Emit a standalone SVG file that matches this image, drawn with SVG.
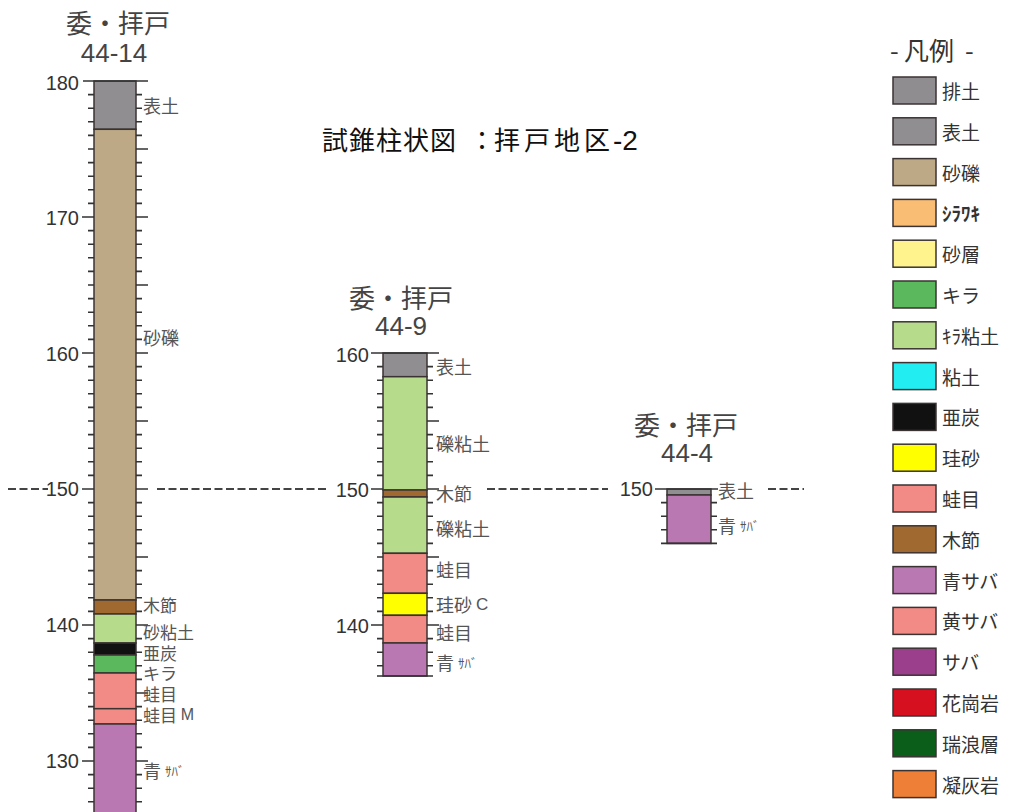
<svg xmlns="http://www.w3.org/2000/svg" width="1013" height="812" viewBox="0 0 1013 812">
<style>
.bg{fill:#fff}
.ly{stroke:#3b3333;stroke-width:1.5}
.tk{stroke:#333;stroke-width:1.6;fill:none}
.dash{stroke:#444;stroke-width:2;stroke-dasharray:8 3.5;fill:none}
.num{font-family:"Liberation Sans",Arial,sans-serif;font-size:20px;fill:#333;text-anchor:end}
.hd{font-family:"Noto Sans CJK JP","Noto Sans",sans-serif;font-size:26px;fill:#444;text-anchor:middle}
.hn{font-family:"Liberation Sans",Arial,sans-serif;font-size:26px;fill:#444;text-anchor:middle}
.lb{font-family:"Noto Sans CJK JP","Noto Sans",sans-serif;font-size:18px;fill:#555;dominant-baseline:central}
.lbd{font-size:17px}
.sm{font-size:13px}
.lg{font-family:"Noto Sans CJK JP","Noto Sans",sans-serif;font-size:19px;fill:#333;dominant-baseline:central}
.lgb{stroke:#3b3333;stroke-width:1.5}
.title{font-family:"Noto Sans CJK JP","Noto Sans",sans-serif;font-size:26px;fill:#111}
.c-haido{fill:#8f8d8f}
.c-hyodo{fill:#908e90}
.c-sareki{fill:#bea987}
.c-shirawaki{fill:#f9bd74}
.c-saso{fill:#fff38e}
.c-kira{fill:#5cb85c}
.c-kiranendo{fill:#b6dc8b}
.c-nendo{fill:#22eef2}
.c-atan{fill:#111}
.c-keisha{fill:#ffff00}
.c-gaerome{fill:#f28b85}
.c-kibushi{fill:#a0692f}
.c-aosaba{fill:#b978b1}
.c-kisaba{fill:#f28b85}
.c-saba{fill:#9b3f8c}
.c-kakougan{fill:#d7101f}
.c-mizunami{fill:#0b5e1a}
.c-gyoukai{fill:#ee7f36}
</style>
<rect class="bg" x="0" y="0" width="1013" height="812"/>

<text class="title" x="322" y="150"><tspan letter-spacing="1">試錐柱状図</tspan><tspan x="469">：</tspan><tspan x="494" letter-spacing="4">拝戸地区</tspan><tspan x="613" font-family="Liberation Sans, Arial, sans-serif" font-size="28">-2</tspan></text>

<g id="connectors">
<path class="dash" d="M8 489H48"/>
<path class="dash" d="M157 489H326"/>
<path class="dash" d="M487 489H608"/>
<path class="dash" d="M768 489H804"/>
</g>

<g id="boring-44-14">
<text class="hd" x="118" y="33">委・拝戸</text>
<text class="hn" x="114" y="62">44-14</text>
<rect class="ly c-hyodo" x="94" y="81" width="42" height="48.3"/>
<rect class="ly c-sareki" x="94" y="129.3" width="42" height="470.7"/>
<rect class="ly c-kibushi" x="94" y="600" width="42" height="14"/>
<rect class="ly c-kiranendo" x="94" y="614" width="42" height="29"/>
<rect class="ly c-atan" x="94" y="643" width="42" height="12"/>
<rect class="ly c-kira" x="94" y="655" width="42" height="18"/>
<rect class="ly c-gaerome" x="94" y="673" width="42" height="35.7"/>
<rect class="ly c-gaerome" x="94" y="708.7" width="42" height="15.3"/>
<rect class="ly c-aosaba" x="94" y="724" width="42" height="100"/>
<path class="tk" d="M83 81H148M82 217h12M82 353h12M82 489h12M82 625h12M82 761h12
M136 149h12M136 217h12M136 285h12M136 353h12M136 421h12M136 489h12M136 557h12M136 625h12M136 693h12M136 761h12
M88 94.6h6M88 108.2h6M88 121.8h6M88 135.4h6M88 149h6M88 162.6h6M88 176.2h6M88 189.8h6M88 203.4h6
M88 230.6h6M88 244.2h6M88 257.8h6M88 271.4h6M88 285h6M88 298.6h6M88 312.2h6M88 325.8h6M88 339.4h6
M88 366.6h6M88 380.2h6M88 393.8h6M88 407.4h6M88 421h6M88 434.6h6M88 448.2h6M88 461.8h6M88 475.4h6
M88 502.6h6M88 516.2h6M88 529.8h6M88 543.4h6M88 557h6M88 570.6h6M88 584.2h6M88 597.8h6M88 611.4h6
M88 638.6h6M88 652.2h6M88 665.8h6M88 679.4h6M88 693h6M88 706.6h6M88 720.2h6M88 733.8h6M88 747.4h6
M88 774.6h6M88 788.2h6M88 801.8h6
M136 94.6h6M136 108.2h6M136 121.8h6M136 135.4h6M136 162.6h6M136 176.2h6M136 189.8h6M136 203.4h6
M136 230.6h6M136 244.2h6M136 257.8h6M136 271.4h6M136 298.6h6M136 312.2h6M136 325.8h6M136 339.4h6
M136 366.6h6M136 380.2h6M136 393.8h6M136 407.4h6M136 434.6h6M136 448.2h6M136 461.8h6M136 475.4h6
M136 502.6h6M136 516.2h6M136 529.8h6M136 543.4h6M136 570.6h6M136 584.2h6M136 597.8h6M136 611.4h6
M136 638.6h6M136 652.2h6M136 665.8h6M136 679.4h6M136 706.6h6M136 720.2h6M136 733.8h6M136 747.4h6
M136 774.6h6M136 788.2h6M136 801.8h6"/>
<text class="num" x="79" y="90">180</text>
<text class="num" x="79" y="225">170</text>
<text class="num" x="79" y="361">160</text>
<text class="num" x="79" y="496">150</text>
<text class="num" x="79" y="632">140</text>
<text class="num" x="79" y="768">130</text>
<text class="lb" x="143" y="105">表土</text>
<text class="lb" x="143" y="337">砂礫</text>
<text class="lb lbd" x="143" y="604">木節</text>
<text class="lb lbd" x="143" y="631">砂粘土</text>
<text class="lb lbd" x="143" y="652">亜炭</text>
<text class="lb lbd" x="143" y="672">キラ</text>
<text class="lb lbd" x="143" y="693">蛙目</text>
<text class="lb lbd" x="143" y="714">蛙目 <tspan font-family="Liberation Sans, Arial, sans-serif" font-size="16">M</tspan></text>
<text class="lb" x="143" y="770">青 <tspan class="sm">ｻﾊﾞ</tspan></text>
</g>

<g id="boring-44-9">
<text class="hd" x="401" y="308">委・拝戸</text>
<text class="hn" x="401" y="335">44-9</text>
<rect class="ly c-hyodo" x="383" y="353" width="44" height="23.7"/>
<rect class="ly c-kiranendo" x="383" y="376.7" width="44" height="113.3"/>
<rect class="ly c-kibushi" x="383" y="490" width="44" height="7"/>
<rect class="ly c-kiranendo" x="383" y="497" width="44" height="56.3"/>
<rect class="ly c-gaerome" x="383" y="553.3" width="44" height="40"/>
<rect class="ly c-keisha" x="383" y="593.3" width="44" height="22"/>
<rect class="ly c-gaerome" x="383" y="615.3" width="44" height="27.7"/>
<rect class="ly c-aosaba" x="383" y="643" width="44" height="33"/>
<path class="tk" d="M371 353H439M371 489h12M371 625h12M377 676H433
M427 421h12M427 489h12M427 557h12M427 625h12
M377 366.6h6M377 380.2h6M377 393.8h6M377 407.4h6M377 421h6M377 434.6h6M377 448.2h6M377 461.8h6M377 475.4h6
M377 502.6h6M377 516.2h6M377 529.8h6M377 543.4h6M377 557h6M377 570.6h6M377 584.2h6M377 597.8h6M377 611.4h6
M377 638.6h6M377 652.2h6M377 665.8h6
M427 366.6h6M427 380.2h6M427 393.8h6M427 407.4h6M427 434.6h6M427 448.2h6M427 461.8h6M427 475.4h6
M427 502.6h6M427 516.2h6M427 529.8h6M427 543.4h6M427 570.6h6M427 584.2h6M427 597.8h6M427 611.4h6
M427 638.6h6M427 652.2h6M427 665.8h6"/>
<text class="num" x="369" y="362">160</text>
<text class="num" x="369" y="497">150</text>
<text class="num" x="369" y="633">140</text>
<text class="lb" x="436" y="366">表土</text>
<text class="lb" x="436" y="443">礫粘土</text>
<text class="lb" x="436" y="493">木節</text>
<text class="lb" x="436" y="528">礫粘土</text>
<text class="lb" x="436" y="569">蛙目</text>
<text class="lb" x="436" y="604">珪砂 <tspan font-family="Liberation Sans, Arial, sans-serif" font-size="17">C</tspan></text>
<text class="lb" x="436" y="632">蛙目</text>
<text class="lb" x="436" y="662">青 <tspan class="sm">ｻﾊﾞ</tspan></text>
</g>

<g id="boring-44-4">
<text class="hd" x="686" y="435">委・拝戸</text>
<text class="hn" x="687" y="462">44-4</text>
<rect class="ly c-hyodo" x="667" y="489" width="44" height="6"/>
<rect class="ly c-aosaba" x="667" y="495" width="44" height="48.4"/>
<path class="tk" d="M655 489H718M661 543.4H717
M661 502.6h6M661 516.2h6M661 529.8h6
M711 502.6h6M711 516.2h6M711 529.8h6"/>
<text class="num" x="653" y="496">150</text>
<text class="lb" x="718" y="490">表土</text>
<text class="lb" x="718" y="525">青 <tspan class="sm">ｻﾊﾞ</tspan></text>
</g>

<g id="legend">
<text x="890" y="60" style="font-family:'Noto Sans CJK JP','Noto Sans',sans-serif;font-size:25px;fill:#333">-<tspan x="904">凡例</tspan><tspan x="965">-</tspan></text>
<g id="lg-haido"><rect class="lgb c-haido" x="893" y="77" width="43" height="27"/><text class="lg" x="942" y="90.5">排土</text></g>
<g id="lg-hyodo"><rect class="lgb c-hyodo" x="893" y="117.8" width="43" height="27"/><text class="lg" x="942" y="131.3">表土</text></g>
<g id="lg-sareki"><rect class="lgb c-sareki" x="893" y="158.6" width="43" height="27"/><text class="lg" x="942" y="172.1">砂礫</text></g>
<g id="lg-shirawaki"><rect class="lgb c-shirawaki" x="893" y="199.4" width="43" height="27"/><text class="lg" x="942" y="212.9" style="font-weight:bold">ｼﾗﾜｷ</text></g>
<g id="lg-saso"><rect class="lgb c-saso" x="893" y="240.2" width="43" height="27"/><text class="lg" x="942" y="253.7">砂層</text></g>
<g id="lg-kira"><rect class="lgb c-kira" x="893" y="281" width="43" height="27"/><text class="lg" x="942" y="294.5">キラ</text></g>
<g id="lg-kiranendo"><rect class="lgb c-kiranendo" x="893" y="321.8" width="43" height="27"/><text class="lg" x="942" y="335.3">ｷﾗ粘土</text></g>
<g id="lg-nendo"><rect class="lgb c-nendo" x="893" y="362.6" width="43" height="27"/><text class="lg" x="942" y="376.1">粘土</text></g>
<g id="lg-atan"><rect class="lgb c-atan" x="893" y="403.4" width="43" height="27"/><text class="lg" x="942" y="416.9">亜炭</text></g>
<g id="lg-keisha"><rect class="lgb c-keisha" x="893" y="444.2" width="43" height="27"/><text class="lg" x="942" y="457.7">珪砂</text></g>
<g id="lg-gaerome"><rect class="lgb c-gaerome" x="893" y="485" width="43" height="27"/><text class="lg" x="942" y="498.5">蛙目</text></g>
<g id="lg-kibushi"><rect class="lgb c-kibushi" x="893" y="525.8" width="43" height="27"/><text class="lg" x="942" y="539.3">木節</text></g>
<g id="lg-aosaba"><rect class="lgb c-aosaba" x="893" y="566.6" width="43" height="27"/><text class="lg" x="942" y="580.1">青サバ</text></g>
<g id="lg-kisaba"><rect class="lgb c-kisaba" x="893" y="607.4" width="43" height="27"/><text class="lg" x="942" y="620.9">黄サバ</text></g>
<g id="lg-saba"><rect class="lgb c-saba" x="893" y="648.2" width="43" height="27"/><text class="lg" x="942" y="661.7">サバ</text></g>
<g id="lg-kakougan"><rect class="lgb c-kakougan" x="893" y="689" width="43" height="27"/><text class="lg" x="942" y="702.5">花崗岩</text></g>
<g id="lg-mizunami"><rect class="lgb c-mizunami" x="893" y="729.8" width="43" height="27"/><text class="lg" x="942" y="743.3">瑞浪層</text></g>
<g id="lg-gyoukai"><rect class="lgb c-gyoukai" x="893" y="770.6" width="43" height="27"/><text class="lg" x="942" y="784.1">凝灰岩</text></g>
</g>
</svg>
